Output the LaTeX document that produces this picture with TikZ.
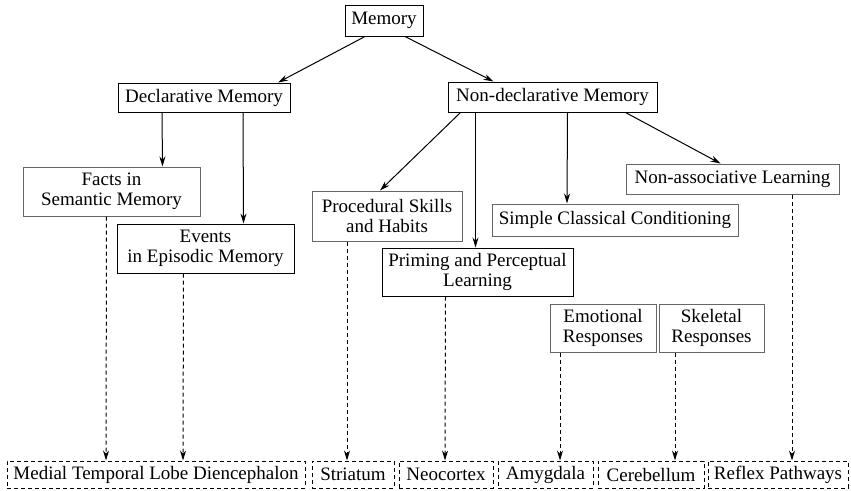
\documentclass[tikz,border=0pt]{standalone}
\usepackage{fontspec}
\setmainfont{Liberation Serif}
\usetikzlibrary{arrows.meta}
\tikzset{
  box/.style={draw, line width=1pt, align=center, inner sep=0pt, font=\fontsize{19}{20}\selectfont},
  pale/.style={box, draw=black!60},
  area/.style={box, dashed, dash pattern=on 4pt off 3pt},
  sz/.style 2 args={minimum width=#1pt, minimum height=#2pt},
  link/.style={-{Stealth[length=10pt,width=6pt]}, line width=1pt},
  dlink/.style={-{Stealth[length=10pt,width=6pt]}, line width=1pt, dash pattern=on 4pt off 3pt}
}

\begin{document}
\begin{tikzpicture}[x=1pt, y=-1pt]
\useasboundingbox (0,0) rectangle (851,490);
% upper levels
\node[box, sz={78}{31}] (mem) at (384,20.5) {Memory};
\node[box, sz={172}{29}] (decl) at (204,97.5) {Declarative Memory};
\node[box, sz={209}{30}] (nondecl) at (552.5,97) {Non-declarative Memory};
\node[pale, sz={177}{49}] (facts) at (111.5,191.5) {Facts in\\Semantic Memory};
\node[box, sz={177}{49}] (events) at (205.5,248.5) {Events\\in Episodic Memory};
\node[pale, sz={150}{50}] (proc) at (387,216) {Procedural Skills\\and Habits};
\node[box, sz={191}{48}] (prim) at (477.5,272) {Priming and Perceptual\\Learning};
\node[pale, sz={246}{32}] (simple) at (615,220) {Simple Classical Conditioning};
\node[pale, sz={213}{30}] (nonassoc) at (732.5,179) {Non-associative Learning};
\node[pale, sz={106}{48}] (emot) at (603,328) {Emotional\\Responses};
\node[pale, sz={105}{48}] (skel) at (711.5,328) {Skeletal\\Responses};
% brain regions
\node[area, sz={298}{27}] (mtl) at (156,474.5) {Medial Temporal Lobe Diencephalon};
\node[area, sz={82}{27}] (stri) at (353,474.5) {Striatum};
\node[area, sz={94}{27}] (neo) at (446,474.5) {Neocortex};
\node[area, sz={95}{27}] (amyg) at (545.5,474.5) {Amygdala};
\node[area, sz={106}{27}] (cereb) at (651,474.5) {Cerebellum};
\node[area, sz={140}{27}] (reflex) at (778,474.5) {Reflex Pathways};
% solid arrows
\draw[link] ([xshift=-19pt]mem.south) -- ([xshift=74pt]decl.north);
\draw[link] ([xshift=21pt]mem.south) -- ([xshift=-59pt]nondecl.north);
\draw[link] ([xshift=-42pt]decl.south) -- ([xshift=51pt]facts.north);
\draw[link] ([xshift=39pt]decl.south) -- ([xshift=38pt]events.north);
\draw[link] ([xshift=-92pt]nondecl.south) -- ([xshift=-7pt]proc.north);
\draw[link] ([xshift=-77pt]nondecl.south) -- ([xshift=-2pt]prim.north);
\draw[link] ([xshift=15pt]nondecl.south) -- ([xshift=-48pt]simple.north);
\draw[link] ([xshift=73pt]nondecl.south) -- ([xshift=-12pt]nonassoc.north);
% dashed arrows
\draw[dlink] ([xshift=-5pt]facts.south) -- ([xshift=-50pt]mtl.north);
\draw[dlink] ([xshift=-22pt]events.south) -- ([xshift=27pt]mtl.north);
\draw[dlink] ([xshift=-40pt]proc.south) -- ([xshift=-6pt]stri.north);
\draw[dlink] ([xshift=-32pt]prim.south) -- ([xshift=-1pt]neo.north);
\draw[dlink] ([xshift=-43pt]emot.south) -- ([xshift=14.5pt]amyg.north);
\draw[dlink] ([xshift=-36.5pt]skel.south) -- ([xshift=24pt]cereb.north);
\draw[dlink] ([xshift=59.5pt]nonassoc.south) -- ([xshift=14pt]reflex.north);
\end{tikzpicture}
\end{document}
